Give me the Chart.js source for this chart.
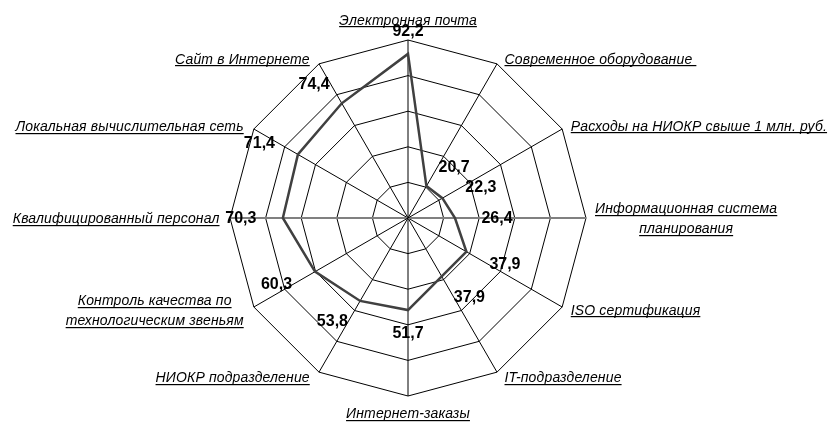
<!DOCTYPE html>
<html>
<head>
<meta charset="utf-8">
<script src="https://cdn.jsdelivr.net/npm/chart.js@4.4.1/dist/chart.umd.min.js"></script>
<style>
  body { margin: 0; background: #fff; }
  #wrap { width: 830px; height: 423px; }
</style>
</head>
<body>
<div id="wrap"><canvas id="radarChart"></canvas></div>
<script>
const categories = [
    'Электронная почта',
    'Современное оборудование ',
    'Расходы на НИОКР свыше 1 млн. руб.',
    ['Информационная система', 'планирования'],
    'ISO сертификация',
    'IT-подразделение',
    'Интернет-заказы',
    'НИОКР подразделение',
    ['Контроль качества по', 'технологическим звеньям'],
    'Квалифицированный персонал',
    'Локальная вычислительная сеть',
    'Сайт в Интернете'
];
const shares = [92.2, 20.7, 22.3, 26.4, 37.9, 37.9, 51.7, 53.8, 60.3, 70.3, 71.4, 74.4];
const scaleMin = 0;
const scaleMax = 100;
const scaleStep = 20;

const labelFont = 'italic 14px "Liberation Sans", Arial, sans-serif';
const valueFont = 'bold 16px "Liberation Sans", Arial, sans-serif';

// underlined category labels around the web
const pointLabelPlugin = {
    id: 'underlinedPointLabels',
    afterDraw(chart) {
        const scale = chart.scales.r;
        const ctx = chart.ctx;
        const n = categories.length;
        const lh = 20;
        ctx.save();
        ctx.font = labelFont;
        ctx.letterSpacing = '0.15px';
        ctx.fillStyle = '#000';
        ctx.textAlign = 'left';
        ctx.textBaseline = 'alphabetic';
        categories.forEach((label, i) => {
            const lines = Array.isArray(label) ? label : [label];
            const v = scale.getPointPosition(i, scale.drawingArea);
            const a = i * 2 * Math.PI / n;
            const s = Math.sin(a), c = Math.cos(a);
            const widths = lines.map(t => ctx.measureText(t).width);
            const blockW = Math.max(...widths);
            let cx, y0;
            if (Math.abs(s) < 0.01) {
                cx = v.x;
                y0 = c > 0 ? v.y - 15.5 - (lines.length - 1) * lh : v.y + 22;
            } else {
                const gap = s > 0 ? 6 + 3 * Math.abs(s) : 8 + 2.5 * Math.abs(s);
                cx = s > 0 ? v.x + gap + blockW / 2 : v.x - gap - blockW / 2;
                y0 = v.y + 5 - 6 * c - (lines.length - 1) * lh / 2;
            }
            lines.forEach((t, k) => {
                const x = cx - widths[k] / 2;
                const y = y0 + k * lh;
                ctx.fillText(t, x, y);
                ctx.fillRect(x, Math.round(y + 1.5), widths[k], 1.2);
            });
        });
        ctx.restore();
    }
};

// value labels next to each point
const valueLabelPlugin = {
    id: 'valueLabels',
    afterDatasetsDraw(chart) {
        const ctx = chart.ctx;
        const meta = chart.getDatasetMeta(0);
        const n = shares.length;
        ctx.save();
        ctx.font = valueFont;
        ctx.fillStyle = '#000';
        ctx.textAlign = 'center';
        ctx.textBaseline = 'middle';
        meta.data.forEach((pt, i) => {
            const a = i * 2 * Math.PI / n;
            const s = Math.sin(a), c = Math.cos(a);
            const dx = 42 * Math.sign(s) * Math.pow(Math.abs(s), 0.6);
            const dy = -23 * c;
            const text = shares[i].toFixed(1).replace('.', ',');
            ctx.fillText(text, pt.x + dx, pt.y + dy + 1);
        });
        ctx.restore();
    }
};

const ctx = document.getElementById('radarChart').getContext('2d');
new Chart(ctx, {
    type: 'radar',
    data: {
        labels: categories,
        datasets: [{
            data: shares,
            borderColor: '#404040',
            borderWidth: 2.5,
            fill: false,
            pointRadius: 0,
            pointHoverRadius: 0,
            tension: 0
        }]
    },
    options: {
        responsive: true,
        maintainAspectRatio: false,
        animation: false,
        layout: {
            padding: { left: 0, right: 14, top: 40, bottom: 27 }
        },
        plugins: {
            legend: { display: false },
            tooltip: { enabled: false }
        },
        scales: {
            r: {
                min: scaleMin,
                max: scaleMax,
                ticks: { stepSize: scaleStep, display: false },
                grid: { color: '#000', lineWidth: 1, circular: false },
                angleLines: {
                    color: c => (c.index === 3 || c.index === 9) ? '#808080' : '#000',
                    lineWidth: c => (c.index === 3 || c.index === 9) ? 2 : 1
                },
                pointLabels: { display: false }
            }
        }
    },
    plugins: [valueLabelPlugin, pointLabelPlugin]
});
</script>
</body>
</html>
